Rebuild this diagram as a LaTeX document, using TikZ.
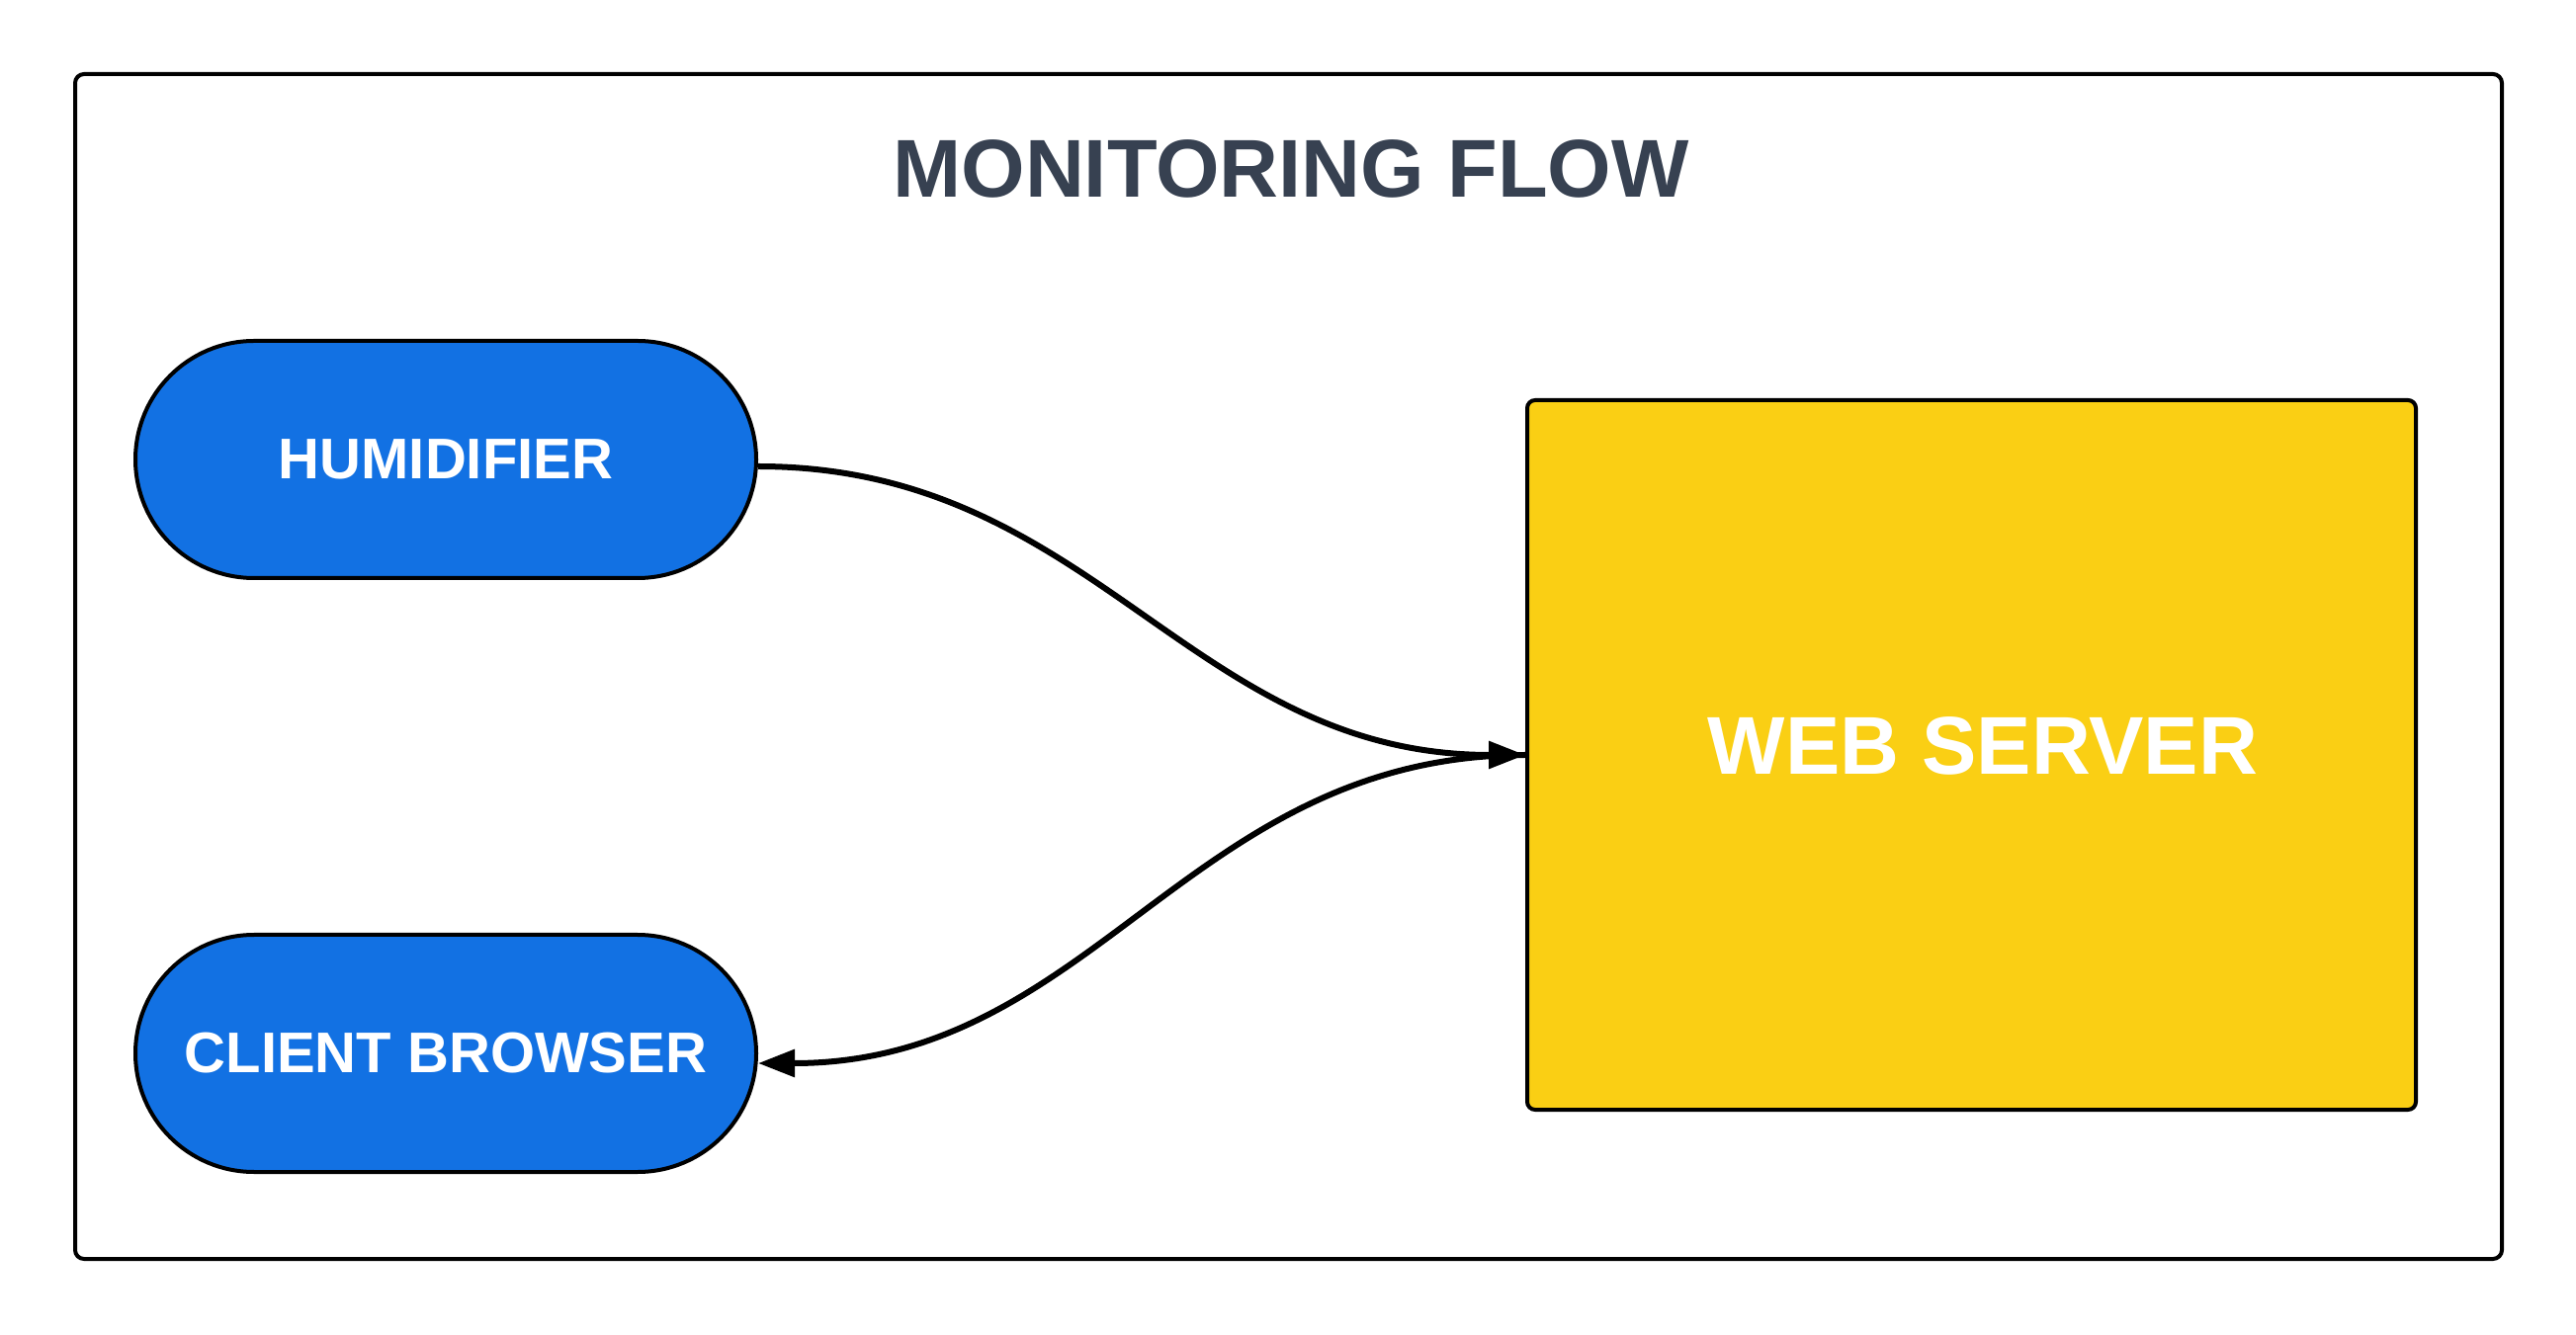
\documentclass[tikz,border=0pt]{standalone}
\usepackage{fontspec}
\setmainfont{Liberation Sans}
\usepackage{tikz}
\usetikzlibrary{arrows.meta}
\definecolor{pillblue}{HTML}{1271E3}
\definecolor{serveryellow}{HTML}{FACF14}
\definecolor{titlegray}{HTML}{374151}

\begin{document}
\begin{tikzpicture}[x=1pt,y=1pt,
    pill/.style={draw=black, line width=4pt, fill=pillblue, rounded corners=120pt,
      minimum width=628pt, minimum height=240pt, text=white,
      font=\fontsize{58}{62}\selectfont\bfseries},
    box/.style={draw=black, line width=4pt, fill=serveryellow, rounded corners=8pt,
      minimum width=899pt, minimum height=718pt},
    bigtext/.style={font=\fontsize{83}{90}\selectfont\bfseries},
    link/.style={draw=black, line width=6pt, -{Triangle[length=37pt,width=27pt]}}]
       \useasboundingbox (0,0) rectangle (2606,1350);
       \node[draw=black, line width=4pt, rounded corners=9pt, minimum width=2455pt,
         minimum height=1199pt] (flow) at (1303.5, 675.5) {};
       \node[bigtext, text=titlegray] (title) at (1306, 1179) {MONITORING FLOW};

       \node[pill] (humid) at (451, 885) {HUMIDIFIER};
       \node[pill] (client) at (451, 284) {CLIENT BROWSER};
       \node[box] (server) at (1994.5, 586) {};
       \node[bigtext, text=white, text depth=0pt] (serverlabel) at (2006, 595) {WEB SERVER};

       \draw[link] ([yshift=-7pt]humid.east) .. controls +(340,0) and +(-340,0) .. (server.west);
       \draw[link] (server.west) .. controls +(-340,0) and +(340,0) .. ([yshift=-10pt]client.east);
      \end{tikzpicture}
\end{document}
